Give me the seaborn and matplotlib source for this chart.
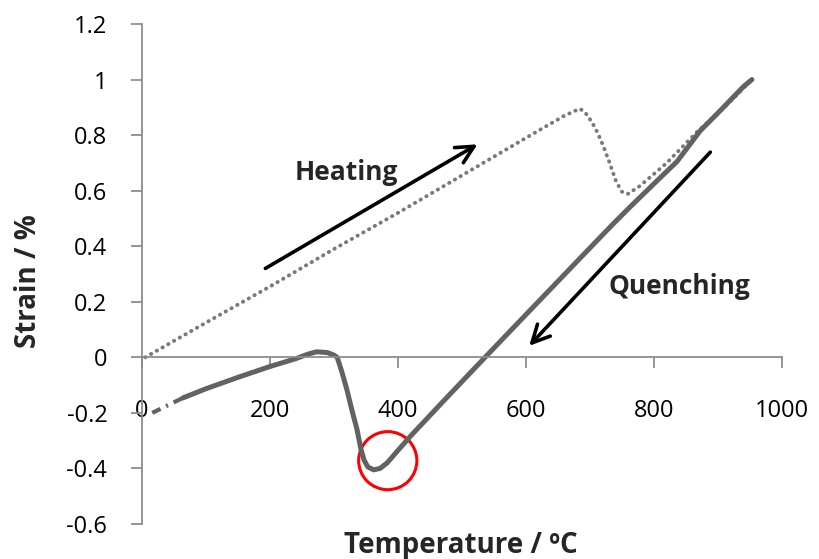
import matplotlib
matplotlib.use("Agg")
import matplotlib.pyplot as plt
import seaborn as sns
import pandas as pd
from matplotlib.patches import Ellipse

# ---- data ----
heat_T = [5, 100, 200, 300, 400, 500, 600, 660, 684, 692, 703, 712, 720, 730, 741, 750, 759, 778, 820, 867, 910, 953]
heat_S = [0, 0.125, 0.255, 0.39, 0.52, 0.655, 0.79, 0.87, 0.895, 0.883, 0.847, 0.808, 0.765, 0.704, 0.632, 0.596, 0.588, 0.617, 0.70, 0.811, 0.9, 1.0]

cool_T = [953, 940, 900, 872, 836, 800, 762, 736, 700, 640, 600, 536, 470, 419, 400, 383, 372, 362, 353, 347,
          342, 336, 328, 320, 312, 305, 300, 290, 273, 260, 240, 200, 150, 100, 64]
cool_S = [1.0, 0.975, 0.88, 0.815, 0.705, 0.625, 0.54, 0.48, 0.394, 0.25, 0.154, 0.0, -0.16, -0.285, -0.335, -0.38, -0.40, -0.405, -0.395, -0.37,
          -0.33, -0.26, -0.19, -0.115, -0.05, 0.0, 0.008, 0.017, 0.02, 0.012, -0.005, -0.033, -0.072, -0.113, -0.146]

tail_T = [64, 16]
tail_S = [-0.146, -0.2]

x_ticks = [0, 200, 400, 600, 800, 1000]
y_ticks = [-0.6, -0.4, -0.2, 0, 0.2, 0.4, 0.6, 0.8, 1, 1.2]
y_labels = ["-0.6", "-0.4", "-0.2", "0", "0.2", "0.4", "0.6", "0.8", "1", "1.2"]

sns.set_style("white")
plt.rcParams['font.family'] = ['Open Sans', 'DejaVu Sans']

fig = plt.figure(figsize=(8.19, 5.59), dpi=100)
ax = fig.add_axes([142/819, 35/559, 640/819, 500/559])

heat = pd.DataFrame({"T": heat_T, "S": heat_S})
cool = pd.DataFrame({"T": cool_T, "S": cool_S})
tail = pd.DataFrame({"T": tail_T, "S": tail_S})

sns.lineplot(data=heat, x="T", y="S", sort=False, estimator=None, ax=ax,
             color="#7a7a7a", lw=2.8, linestyle=(0, (0.1, 1.6)),
             dash_capstyle="round")
sns.lineplot(data=cool, x="T", y="S", sort=False, estimator=None, ax=ax,
             color="#626262", lw=3.6, solid_capstyle="round", solid_joinstyle="round")
sns.lineplot(data=tail, x="T", y="S", sort=False, estimator=None, ax=ax,
             color="#626262", lw=3.0, linestyle=(0, (2.5, 1.5, 0.5, 1.5)))

ax.set_xlim(0, 1000)
ax.set_ylim(-0.6, 1.2)

for s in ["top", "right"]:
    ax.spines[s].set_visible(False)
ax.spines["bottom"].set_position(("data", 0))
for s in ["left", "bottom"]:
    ax.spines[s].set_color("#8c8c8c")
    ax.spines[s].set_linewidth(1.3)

ax.set_xticks(x_ticks)
ax.set_xticklabels([str(v) for v in x_ticks])
ax.set_yticks(y_ticks)
ax.set_yticklabels(y_labels)
ax.tick_params(axis="x", direction="out", length=8, width=1.3, color="#8c8c8c",
               pad=22, labelsize=17, labelcolor="black", bottom=True)
ax.tick_params(axis="y", direction="out", length=8, width=1.3, color="#8c8c8c",
               pad=17, labelsize=17, labelcolor="black", left=True)

ax.set_xlabel("")
ax.set_ylabel("")
fig.text(461/819, 1 - 546/559, "Temperature / ºC", ha="center", va="center",
         fontsize=20, fontweight="bold")
fig.text(28/819, 1 - 281/559, "Strain / %", ha="center", va="center",
         rotation=90, fontsize=20, fontweight="bold")

# arrows and annotations
ax.annotate("", xy=(528, 0.772), xytext=(189, 0.315),
            arrowprops=dict(arrowstyle="->,head_length=0.9,head_width=0.45",
                            color="black", lw=2.6, mutation_scale=14))
ax.annotate("", xy=(602, 0.034), xytext=(891, 0.746),
            arrowprops=dict(arrowstyle="->,head_length=0.9,head_width=0.45",
                            color="black", lw=2.6, mutation_scale=14))
ax.text(320, 0.667, "Heating", ha="center", va="center", fontsize=19, fontweight="bold")
ax.text(839, 0.254, "Quenching", ha="center", va="center", fontsize=19, fontweight="bold")

ax.add_patch(Ellipse((384, -0.372), width=91, height=0.209, angle=0,
                     fill=False, edgecolor="#ff0000", lw=2.2))

fig.savefig("out.png", dpi=100)
